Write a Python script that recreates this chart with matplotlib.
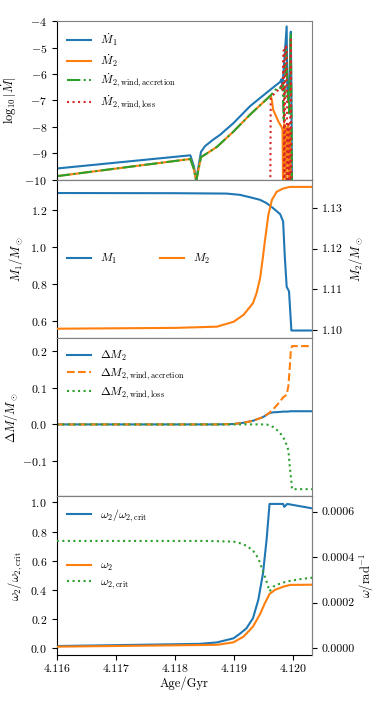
import numpy as np
import matplotlib
matplotlib.use("Agg")
from matplotlib import pyplot as plt
from matplotlib.ticker import FormatStrFormatter

plt.rcParams['font.family'] = 'serif'
plt.rcParams['font.serif'] = ['cmr10', 'DejaVu Serif']
plt.rcParams['mathtext.fontset'] = 'cm'
plt.rcParams['axes.formatter.use_mathtext'] = True
plt.rcParams['font.size'] = 8.5
plt.rcParams['axes.labelsize'] = 9
plt.rcParams['legend.fontsize'] = 8.5
plt.rcParams['axes.unicode_minus'] = True

# %% Data
# panel 1: log10 |Mdot|
t_md1 = [4.11600, 4.11826, 4.11832, 4.11836, 4.11839, 4.11844, 4.11851, 4.11865, 4.11876, 4.11899,
         4.11927, 4.11955, 4.11978, 4.11980, 4.11982, 4.11984, 4.11989, 4.11990, 4.11992,
         4.11994, 4.11996, 4.11997, 4.11998]
md1 = [-9.58, -9.08, -9.5, -10.05, -9.6, -8.95, -8.73, -8.48, -8.31, -7.86,
       -7.22, -6.71, -6.30, -6.20, -6.45, -5.8, -4.2, -6.5, -7.0,
       -6.0, -4.4, -6.5, -10.5]

t_md2 = [4.11600, 4.11826, 4.11832, 4.11836, 4.11839, 4.11844, 4.11854, 4.11871, 4.11899,
         4.11927, 4.11962, 4.11964, 4.11966, 4.11975, 4.11980, 4.11982, 4.11983, 4.11985,
         4.11987, 4.11988, 4.11990, 4.11992, 4.11993, 4.11995, 4.11996]
md2 = [-9.87, -9.22, -9.6, -10.05, -9.7, -9.15, -9.01, -8.76, -8.18,
       -7.54, -6.81, -7.0, -7.35, -7.8, -7.99, -8.1, -10.5, -7.9,
       -8.3, -10.5, -8.0, -7.9, -10.5, -8.1, -10.5]

t_md2_acc = [4.11600, 4.11826, 4.11832, 4.11836, 4.11839, 4.11844, 4.11854, 4.11871, 4.11899,
             4.11927, 4.11962, 4.11970, 4.11976, 4.11980, 4.11982, 4.11984, 4.11986, 4.11988,
             4.11990, 4.11993, 4.11996, 4.11998]
md2_acc = [-9.87, -9.22, -9.6, -10.05, -9.7, -9.15, -9.01, -8.76, -8.18,
           -7.54, -6.81, -6.6, -6.5, -6.55, -6.4, -7.8, -6.4, -5.1,
           -6.3, -7.5, -4.45, -10.5]

t_md2_loss = [4.11961, 4.11962, 4.11968, 4.11975, 4.11980, 4.11982, 4.11984, 4.11985,
              4.11987, 4.11989, 4.11990, 4.11992, 4.11994, 4.11996, 4.11997]
md2_loss = [-12.0, -6.9, -6.75, -6.6, -6.45, -6.6, -5.1, -10.5,
            -4.9, -5.0, -10.5, -7.9, -10.5, -4.7, -10.5]

# panel 2: masses
t_m1 = [4.11600, 4.11800, 4.11887, 4.11910, 4.11927, 4.11944, 4.11955, 4.11966, 4.11978,
        4.11983, 4.11986, 4.11989, 4.11993, 4.11997, 4.12040]
m1 = [1.295, 1.294, 1.292, 1.285, 1.272, 1.258, 1.240, 1.213, 1.180,
      1.14, 0.94, 0.785, 0.76, 0.547, 0.547]
t_m2 = [4.11600, 4.11800, 4.11871, 4.11899, 4.11916, 4.11932, 4.11938, 4.11944, 4.11948,
        4.11952, 4.11958, 4.11964, 4.11972, 4.11983, 4.11994, 4.12040]
m2 = [1.1003, 1.1005, 1.1008, 1.1020, 1.1037, 1.1066, 1.1090, 1.1127, 1.1170,
      1.1217, 1.1283, 1.1320, 1.1340, 1.1348, 1.1352, 1.1352]

# panel 3: mass changes
t_dm = [4.11600, 4.11870, 4.11899, 4.11916, 4.11932, 4.11949, 4.11960, 4.11966, 4.11977,
        4.11983, 4.11989, 4.11992, 4.11994, 4.11996, 4.11998, 4.12040]
dm2 = [0.0, 0.0, 0.001, 0.0045, 0.010, 0.020, 0.031, 0.033, 0.034,
       0.035, 0.035, 0.035, 0.036, 0.036, 0.036, 0.036]
dm2_acc = [0.0, 0.0, 0.001, 0.0045, 0.010, 0.020, 0.032, 0.041, 0.061,
           0.074, 0.081, 0.106, 0.151, 0.200, 0.214, 0.214]
t_dm_loss = [4.11600, 4.11955, 4.11966, 4.11977, 4.11986, 4.11992, 4.11994, 4.11997, 4.11998,
             4.12040]
dm2_loss = [0.0, 0.0, -0.007, -0.021, -0.043, -0.071, -0.111, -0.157, -0.177, -0.177]

# panel 4: rotation
t_w = [4.11600, 4.11842, 4.11871, 4.11899, 4.11910, 4.11921, 4.11932, 4.11941, 4.11949,
       4.11955, 4.11960, 4.11983, 4.11985, 4.11990, 4.12040]
w_ratio = [0.015, 0.03, 0.04, 0.068, 0.10, 0.137, 0.206, 0.332, 0.515,
           0.744, 0.99, 0.99, 0.97, 0.99, 0.954]
t_w2 = [4.11600, 4.11871, 4.11899, 4.11916, 4.11932, 4.11944, 4.11952, 4.11960, 4.11969,
        4.11983, 4.11995, 4.12040]
w2 = [0.000007, 0.000015, 0.000026, 0.000051, 0.000095, 0.00015, 0.000197, 0.000238,
      0.000256, 0.00027, 0.000278, 0.000279]
t_wc = [4.11600, 4.11850, 4.11899, 4.11910, 4.11921, 4.11932, 4.11941, 4.11949, 4.11955,
        4.11960, 4.11966, 4.11977, 4.11989, 4.12011, 4.12040]
w2_crit = [0.000471, 0.000471, 0.000468, 0.000461, 0.000450, 0.000429, 0.000395, 0.000337,
           0.000293, 0.000250, 0.000270, 0.000283, 0.000293, 0.000303, 0.000312]

# %% Figure
fig, axes = plt.subplots(4, 1, sharex=True, figsize=(3.76, 7.05), dpi=100)
fig.subplots_adjust(left=0.151, right=0.83, top=0.97, bottom=0.071, hspace=0)


def style(ax, twin=None):
    ax.spines['top'].set_color('grey')
    ax.spines['right'].set_color('grey')
    if twin is not None:
        twin.spines['top'].set_color('grey')
        twin.spines['right'].set_color('grey')
        twin.spines['left'].set_visible(False)
        twin.spines['bottom'].set_visible(False)


ax1, ax2, ax3, ax4 = axes
leg_kw = dict(frameon=False, labelspacing=0.3)

ax1.plot(t_md1, md1, color='C0', lw=1.5, label=r"$\dot M_1$")
ax1.plot(t_md2, md2, color='C1', lw=1.5, label=r"$\dot M_2$")
ax1.plot(t_md2_acc, md2_acc, color='C2', lw=1.5, linestyle='-.', label=r"$\dot M_{2,\rm wind,accretion}$")
ax1.plot(t_md2_loss, md2_loss, color='C3', lw=1.5, linestyle=':', label=r"$\dot M_{2,\rm wind,loss}$")
ax1.set_ylim(-10, -4)
ax1.set_yticks([-10, -9, -8, -7, -6, -5, -4])
ax1.set_ylabel(r"$\log_{10}|\dot M|$")
ax1.legend(loc="upper left", **leg_kw)
style(ax1)

ax2b = ax2.twinx()
l1, = ax2.plot(t_m1, m1, color='C0', lw=1.5, label=r"$M_1$")
l2, = ax2b.plot(t_m2, m2, color='C1', lw=1.5, label=r"$M_2$")
ax2.set_ylim(0.506, 1.368)
ax2.set_yticks([0.6, 0.8, 1.0, 1.2])
ax2b.set_ylim(1.098, 1.137)
ax2b.set_yticks([1.10, 1.11, 1.12, 1.13])
ax2b.yaxis.set_major_formatter(FormatStrFormatter('%.2f'))
ax2.set_ylabel(r"$M_1/M_\odot$")
ax2b.set_ylabel(r"$M_2/M_\odot$", labelpad=3)
ax2b.legend([l1, l2], [l1.get_label(), l2.get_label()], loc="center left", ncol=2,
            columnspacing=3.6, **leg_kw)
style(ax2, ax2b)

ax3.plot(t_dm, dm2, color='C0', lw=1.5, label=r"$\Delta M_2$")
ax3.plot(t_dm, dm2_acc, color='C1', lw=1.5, linestyle='--', label=r"$\Delta M_{2,\rm wind,accretion}$")
ax3.plot(t_dm_loss, dm2_loss, color='C2', lw=1.5, linestyle=':', label=r"$\Delta M_{2,\rm wind,loss}$")
ax3.set_ylim(-0.197, 0.236)
ax3.set_yticks([-0.1, 0.0, 0.1, 0.2])
ax3.set_ylabel(r"$\Delta M/M_\odot$", labelpad=1)
ax3.legend(loc="upper left", **leg_kw)
style(ax3)

ax4b = ax4.twinx()
ax4.plot(t_w, w_ratio, color='C0', lw=1.5, label=r"$\omega_2/\omega_{2,\rm crit}$")
ax4b.plot(t_w2, w2, color='C1', lw=1.5, label=r"$\omega_2$")
ax4b.plot(t_wc, w2_crit, color='C2', lw=1.5, linestyle=':', label=r"$\omega_{2,\rm crit}$")
ax4.set_ylim(-0.046, 1.041)
ax4.set_yticks([0.0, 0.2, 0.4, 0.6, 0.8, 1.0])
ax4b.set_ylim(-0.0000294, 0.000666)
ax4b.set_yticks([0.0, 0.0002, 0.0004, 0.0006])
ax4b.yaxis.set_major_formatter(FormatStrFormatter('%.4f'))
ax4.set_ylabel(r"$\omega_2/\omega_{2,\rm crit}$")
ax4b.set_ylabel(r"$\omega/{\rm rad}^{-1}$", labelpad=2)
ax4.legend(loc="upper left", **leg_kw)
ax4b.legend(loc="center left", **leg_kw)
style(ax4, ax4b)

ax4.set_xlim(4.116, 4.12032)
ax4.set_xticks([4.116, 4.117, 4.118, 4.119, 4.120])
ax4.xaxis.set_major_formatter(FormatStrFormatter('%.3f'))
ax4.set_xlabel("Age/Gyr", labelpad=2)
for ax in (ax1, ax2, ax3):
    ax.tick_params(axis='x', which='both', bottom=False, labelbottom=False)

plt.savefig("out.png", dpi=100)
